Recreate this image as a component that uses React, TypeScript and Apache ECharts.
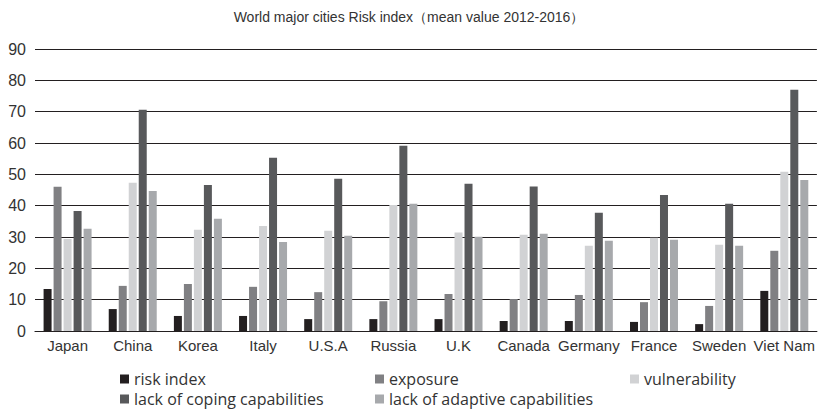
import React, { useEffect, useRef } from "react";
import * as echarts from "echarts";

const categories = ["Japan", "China", "Korea", "Italy", "U.S.A", "Russia", "U.K", "Canada", "Germany", "France", "Sweden", "Viet Nam"];
const riskIndex = [13.4, 7.0, 4.8, 4.8, 3.8, 3.8, 3.8, 3.2, 3.2, 2.9, 2.2, 12.8];
const exposure = [46.0, 14.4, 15.0, 14.1, 12.4, 9.5, 11.8, 10.2, 11.5, 9.2, 8.0, 25.6];
const vulnerability = [29.4, 47.3, 32.3, 33.5, 32.0, 40.2, 31.4, 30.7, 27.2, 29.8, 27.5, 50.8];
const lackCoping = [38.3, 70.6, 46.6, 55.3, 48.6, 59.1, 47.0, 46.1, 37.7, 43.4, 40.6, 77.0];
const lackAdaptive = [32.6, 44.7, 35.8, 28.4, 30.4, 40.6, 30.1, 31.0, 28.8, 29.1, 27.2, 48.2];
const seriesNames = ["risk index", "exposure", "vulnerability", "lack of coping capabilities", "lack of adaptive capabilities"];
const seriesColors = ["#231f20", "#808083", "#d1d2d4", "#58595b", "#a7a9ac"];

export default function App() {
  const ref = useRef<HTMLDivElement>(null);
  useEffect(() => {
    if (!ref.current) return;
    const chart = echarts.init(ref.current, null, { renderer: "svg" });
    const values = [riskIndex, exposure, vulnerability, lackCoping, lackAdaptive];
    const legendText = {
      fontFamily: "'Open Sans', 'Liberation Sans', Arial, sans-serif",
      fontSize: 16,
      color: "#333",
      rich: {
        a: {
          width: 241,
          fontFamily: "'Open Sans', 'Liberation Sans', Arial, sans-serif",
          fontSize: 16,
          color: "#333",
          lineHeight: 18,
        },
      },
    };
    const legendBase = {
      left: 120,
      width: 780,
      orient: "horizontal",
      itemWidth: 9,
      itemHeight: 9,
      itemGap: 0,
      icon: "rect",
      formatter: "{a|{name}}",
      textStyle: legendText,
      selectedMode: false,
      padding: 0,
    };
    chart.setOption({
      animation: false,
      backgroundColor: "#fff",
      title: {
        text: "World major cities Risk index（mean value 2012-2016）",
        left: "center",
        top: 5,
        textStyle: { fontFamily: "'Liberation Sans', Arial, sans-serif", fontSize: 14, fontWeight: "normal", color: "#333" },
      },
      legend: [
        { ...legendBase, data: seriesNames.slice(0, 3), top: 371 },
        { ...legendBase, data: seriesNames.slice(3), top: 391 },
      ],
      grid: { left: 35, right: 1, top: 49, bottom: 82, containLabel: false },
      xAxis: {
        type: "category",
        data: categories,
        axisLine: { show: true, lineStyle: { color: "#231f20", width: 1.2 } },
        axisTick: { show: false },
        axisLabel: {
          color: "#333",
          fontSize: 15,
          fontFamily: "'Liberation Sans Narrow', 'Liberation Sans', Arial, sans-serif",
          margin: 7,
          interval: 0,
        },
      },
      yAxis: {
        type: "value",
        min: 0,
        max: 90,
        interval: 10,
        axisLine: { show: false },
        axisTick: { show: false },
        splitLine: { show: true, lineStyle: { color: "#231f20", width: 1.2 } },
        axisLabel: {
          color: "#333",
          fontSize: 16,
          fontFamily: "'Liberation Sans', Arial, sans-serif",
          margin: 9,
        },
      },
      series: seriesNames.map((name, i) => ({
        name,
        type: "bar",
        data: values[i],
        barWidth: 8,
        barGap: "25%",
        itemStyle: { color: seriesColors[i] },
      })),
    });
    return () => chart.dispose();
  }, []);
  return <div ref={ref} style={{ width: 818, height: 413, position: "absolute", left: 0, top: 0 }} />;
}
